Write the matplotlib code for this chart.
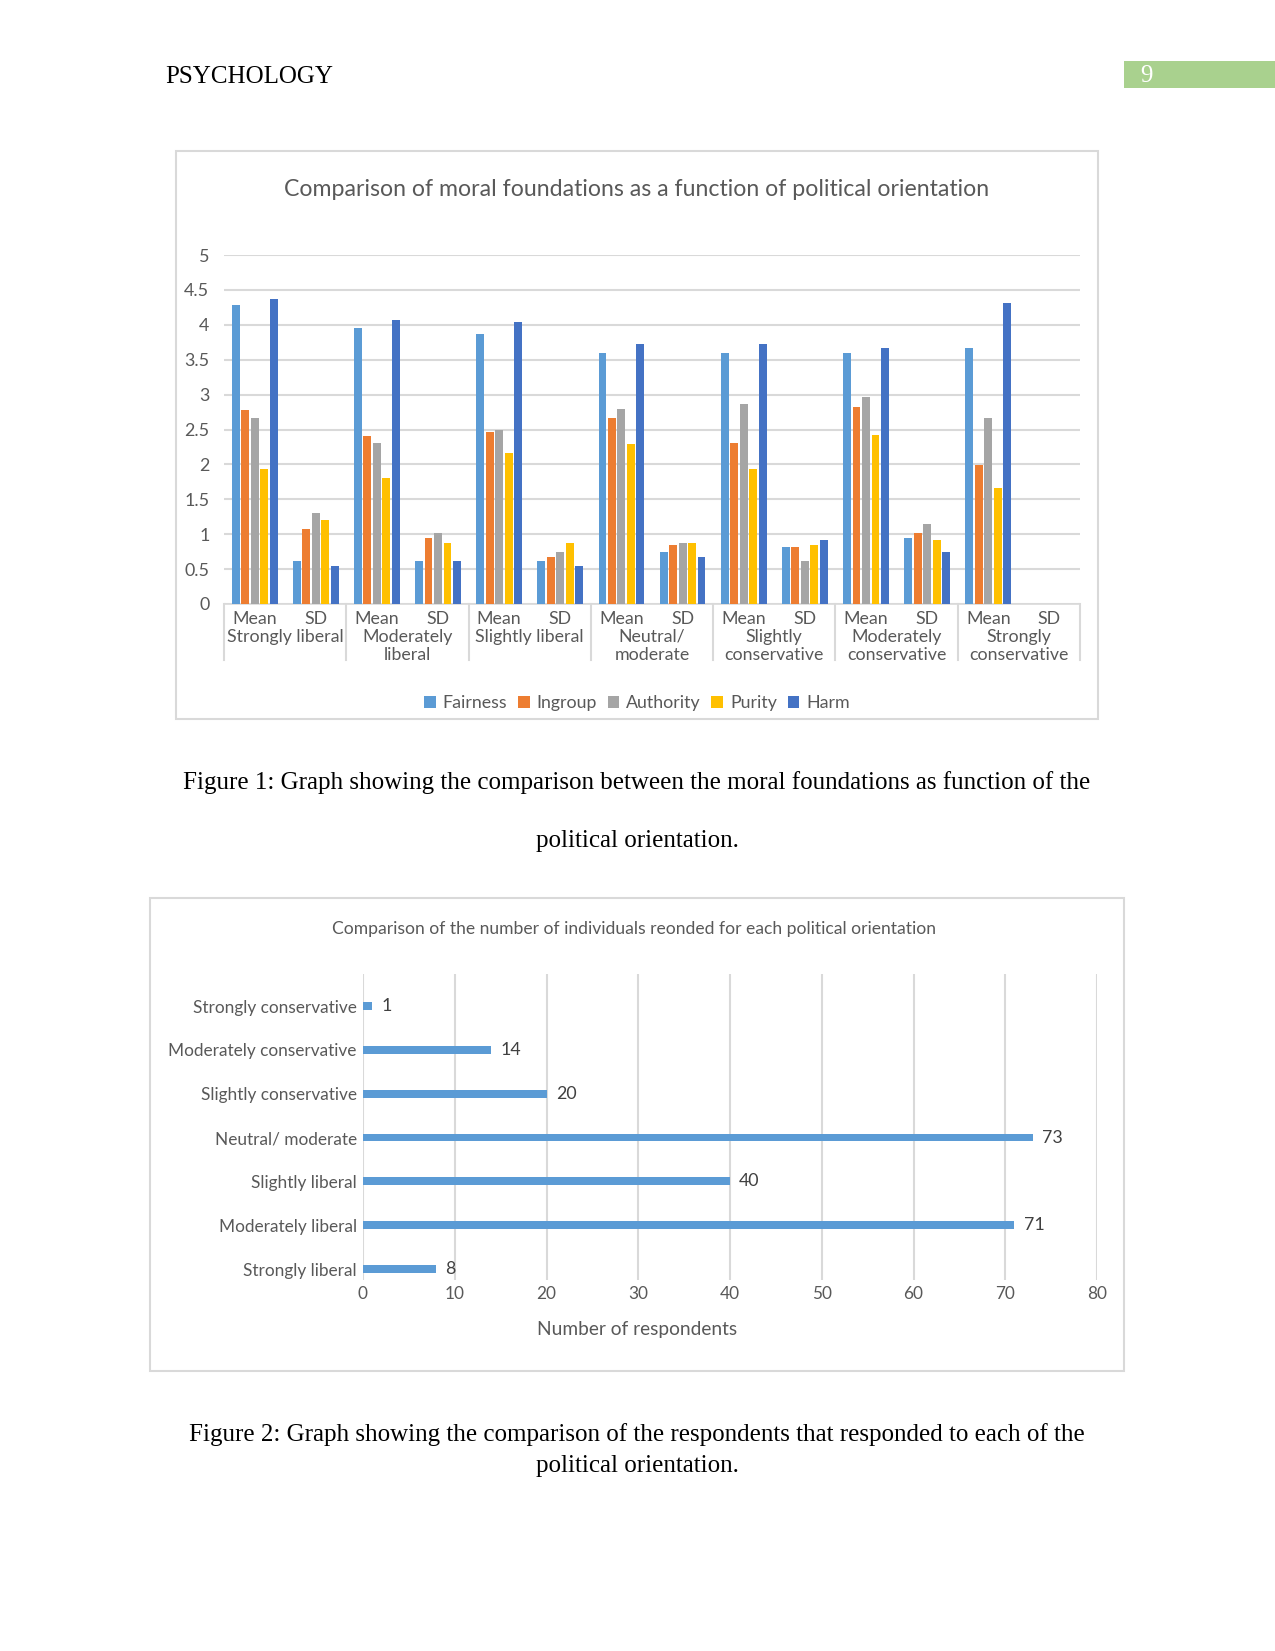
import matplotlib.pyplot as plt
from matplotlib.patches import Rectangle
from matplotlib.lines import Line2D
import matplotlib.transforms as mtransforms
import numpy as np

W, H = 1275, 1651
DPI = 150

# chart 1 data: mean and SD per political orientation
groups = ['Strongly liberal', 'Moderately\nliberal', 'Slightly liberal', 'Neutral/\nmoderate',
          'Slightly\nconservative', 'Moderately\nconservative', 'Strongly\nconservative']
stats = ['Mean', 'SD']
series = ['Fairness', 'Ingroup', 'Authority', 'Purity', 'Harm']
fairness = [4.28, 0.62, 3.95, 0.62, 3.87, 0.62, 3.59, 0.75, 3.59, 0.82, 3.59, 0.94, 3.67, 0]
ingroup = [2.78, 1.08, 2.40, 0.94, 2.47, 0.67, 2.66, 0.85, 2.30, 0.81, 2.82, 1.02, 1.99, 0]
authority = [2.66, 1.30, 2.30, 1.02, 2.49, 0.75, 2.80, 0.88, 2.86, 0.62, 2.96, 1.15, 2.66, 0]
purity = [1.94, 1.20, 1.80, 0.88, 2.16, 0.88, 2.29, 0.87, 1.94, 0.85, 2.42, 0.92, 1.66, 0]
harm = [4.37, 0.54, 4.07, 0.62, 4.04, 0.55, 3.72, 0.68, 3.72, 0.91, 3.67, 0.74, 4.31, 0]
colors = ['#5B9BD5', '#ED7D31', '#A5A5A5', '#FFC000', '#4472C4']

# chart 2 data
orientations = ['Strongly liberal', 'Moderately liberal', 'Slightly liberal', 'Neutral/ moderate',
                'Slightly conservative', 'Moderately conservative', 'Strongly conservative']
respondents = [8, 71, 40, 73, 20, 14, 1]

SANS = 'Lato'
SERIF = 'Liberation Serif'
GREY = '#595959'
GRID = '#D9D9D9'

fig = plt.figure(figsize=(W / DPI, H / DPI), dpi=DPI)


def fx(px):
    return px / W


def fy(py):
    return 1 - py / H


def rect(x0, y0, x1, y1):
    return [fx(x0), fy(y1), fx(x1) - fx(x0), fy(y0) - fy(y1)]


# page header
fig.text(fx(165), fy(77), 'PSYCHOLOGY', family=SERIF, fontsize=12, va='center', ha='left')
fig.patches.append(Rectangle((fx(1124), fy(88)), fx(1275) - fx(1124), fy(61) - fy(88),
                             transform=fig.transFigure, facecolor='#A9D18E', edgecolor='none'))
fig.text(fx(1146), fy(76), '9', family=SERIF, fontsize=12, color='white', va='center', ha='center')

# ---------- chart 1 ----------
fig.patches.append(Rectangle((fx(176), fy(719)), fx(1098) - fx(176), fy(151) - fy(719),
                             transform=fig.transFigure, facecolor='none', edgecolor=GRID, lw=1))
fig.text(fx(637), fy(189), 'Comparison of moral foundations as a function of political orientation',
         family=SANS, fontsize=11.1, color=GREY, ha='center', va='center')

ax1 = fig.add_axes(rect(224, 255, 1080, 604))
x = np.arange(len(fairness))
pitch = 0.155
bw = 0.13
for i, (name, vals) in enumerate(zip(series, [fairness, ingroup, authority, purity, harm])):
    ax1.bar(x + (i - 2) * pitch, vals, width=bw, color=colors[i], label=name, zorder=3)

ax1.set_xlim(-0.5, len(fairness) - 0.5)
ax1.set_ylim(0, 5)
ax1.set_yticks(np.arange(0, 5.01, 0.5))
ax1.set_yticklabels(['0', '0.5', '1', '1.5', '2', '2.5', '3', '3.5', '4', '4.5', '5'], family=SANS)
ax1.grid(axis='y', color=GRID, lw=1, zorder=0)
for s in ['top', 'right', 'left']:
    ax1.spines[s].set_visible(False)
ax1.spines['bottom'].set_color(GRID)
ax1.tick_params(axis='y', length=0, pad=7, labelcolor=GREY, labelsize=8.6)
ax1.set_xticks([])

trans = mtransforms.blended_transform_factory(ax1.transData, fig.transFigure)
for k in range(len(fairness)):
    ax1.text(k, fy(619), stats[k % 2], transform=trans, family=SANS, fontsize=8.5,
             color=GREY, ha='center', va='center')
for g, name in enumerate(groups):
    for j, line in enumerate(name.split('\n')):
        ax1.text(2 * g + 0.5, fy(637 + 18 * j), line, transform=trans, family=SANS, fontsize=8.5,
                 color=GREY, ha='center', va='center')
for g in range(len(groups) + 1):
    ax1.add_line(Line2D([2 * g - 0.5, 2 * g - 0.5], [fy(604), fy(660)], transform=trans,
                        color=GRID, lw=1, clip_on=False))

fig.legend(*ax1.get_legend_handles_labels(), loc='center', bbox_to_anchor=(fx(637), fy(703)),
           ncol=5, frameon=False, handlelength=0.65, handleheight=0.65, handletextpad=0.4,
           columnspacing=0.6, prop={'family': SANS, 'size': 8.5}, labelcolor=GREY)

# captions
fig.text(fx(637), fy(783), 'Figure 1: Graph showing the comparison between the moral foundations as function of the',
         family=SERIF, fontsize=12, ha='center', va='center')
fig.text(fx(637), fy(841), 'political orientation.', family=SERIF, fontsize=12, ha='center', va='center')

# ---------- chart 2 ----------
fig.patches.append(Rectangle((fx(150), fy(1371)), fx(1124) - fx(150), fy(898) - fy(1371),
                             transform=fig.transFigure, facecolor='none', edgecolor=GRID, lw=1))
fig.text(fx(634), fy(929), 'Comparison of the number of individuals reonded for each political orientation',
         family=SANS, fontsize=8.4, color=GREY, ha='center', va='center')

ax2 = fig.add_axes(rect(363, 974, 1097, 1280))
y = np.arange(len(respondents))
ax2.barh(y, respondents, height=0.18, color='#5B9BD5', zorder=3)
for yi, v in zip(y, respondents):
    ax2.text(v + 1.0, yi, str(v), family=SANS, fontsize=8.5, color='#404040', va='center', ha='left')
ax2.set_xlim(0, 80)
ax2.set_ylim(-0.25, 6.73)
ax2.set_xticks(np.arange(0, 81, 10))
ax2.set_yticks(y)
ax2.set_yticklabels(orientations, family=SANS)
ax2.set_xticklabels([str(v) for v in range(0, 81, 10)], family=SANS)
ax2.grid(axis='x', color=GRID, lw=1, zorder=0)
for s in ax2.spines.values():
    s.set_visible(False)
ax2.tick_params(axis='both', length=0, labelcolor=GREY, labelsize=8.3)
ax2.tick_params(axis='y', pad=3)
ax2.tick_params(axis='x', pad=3)
fig.text(fx(637), fy(1330), 'Number of respondents', family=SANS, fontsize=9.2, color=GREY,
         ha='center', va='center')

fig.text(fx(637), fy(1435), 'Figure 2: Graph showing the comparison of the respondents that responded to each of the',
         family=SERIF, fontsize=12, ha='center', va='center')
fig.text(fx(637), fy(1466), 'political orientation.', family=SERIF, fontsize=12, ha='center', va='center')

fig.savefig('out.png', dpi=DPI)
